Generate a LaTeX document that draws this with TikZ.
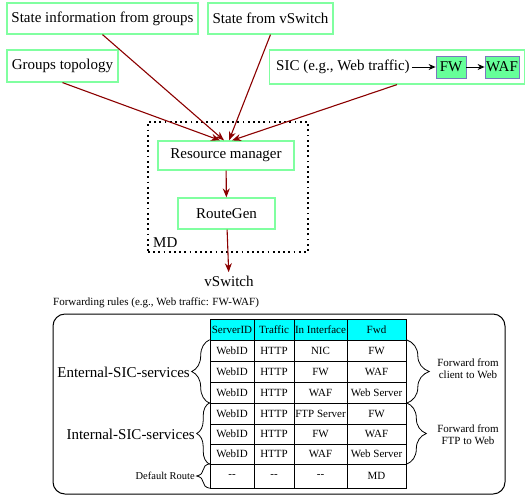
\documentclass[tikz,border=0pt]{standalone}
\usepackage{fontspec}
\setmainfont{Liberation Serif}
\usetikzlibrary{arrows.meta,positioning,decorations.pathreplacing}
\definecolor{mint}{RGB}{128,255,160}
\definecolor{fwfill}{RGB}{102,255,153}
\definecolor{fwedge}{RGB}{120,120,190}
\definecolor{darkred}{RGB}{139,0,0}
\definecolor{headcyan}{RGB}{0,255,255}
\tikzset{
	big/.style={font=\fontsize{15}{17}\selectfont},
	small/.style={font=\fontsize{11}{12}\selectfont},
	inbox/.style={draw=mint,line width=1.2pt,inner sep=0pt,big},
	feed/.style={draw=darkred,line width=1.1pt,-{Stealth[length=9pt,width=7pt]}},
	fnbox/.style={draw=fwedge,fill=fwfill,line width=0.8pt,inner sep=0pt,minimum height=22pt,big},
	cell/.style={draw,line width=0.6pt,inner sep=0pt,small},
	curly/.style={decorate,decoration={brace,amplitude=#1},line width=0.8pt},
	mdbox/.style={draw,line width=1.8pt,dash pattern=on 1.8pt off 3.4pt}
}
\begin{document}
\begin{tikzpicture}[x=1pt,y=-1pt]
\useasboundingbox (0,0) rectangle (526,498);
\node[inbox,minimum width=191pt,minimum height=31pt] (info) at (102.5,18.5) {State information from groups};
\node[inbox,minimum width=125pt,minimum height=31pt] (state) at (270.5,18.5) {State from vSwitch};
\node[inbox,minimum width=111pt,minimum height=32pt] (topo) at (62.5,66) {Groups topology};
\node[inbox,minimum width=255pt,minimum height=34pt] (sic) at (397,67) {};
\node[anchor=west,big,inner sep=0pt] (sictext) at (276,67) {SIC (e.g., Web traffic)};
\node[fnbox,minimum width=30pt] (fw) at (451,67) {FW};
\node[fnbox,minimum width=34pt] (waf) at (502,67) {WAF};
\draw[line width=0.9pt,-{Stealth[length=7pt,width=6pt]}] ([xshift=2pt]sictext.east) -- (fw);
\draw[line width=0.9pt,-{Stealth[length=7pt,width=6pt]}] (fw) -- (waf);

\node[mdbox,minimum width=160pt,minimum height=130pt] (md) at (228,187) {};
\node[anchor=base west,big,inner sep=0pt] (mdlabel) at (153,247) {MD};
\node[inbox,minimum width=136pt,minimum height=29pt] (rm) at (226,155.5) {Resource manager};
\node[inbox,minimum width=97pt,minimum height=31pt] (rg) at (226.5,213.5) {RouteGen};
\node[big] (vsout) at (229,281) {vSwitch};

\draw[feed] (topo.south) -- ([xshift=-6pt]rm.north);
\draw[feed] (info.south) -- ([xshift=-2pt]rm.north);
\draw[feed] (state.south) -- ([xshift=3pt]rm.north);
\draw[feed] (sic.south) -- ([xshift=6pt]rm.north);
\draw[feed] (rm) -- (rg);
\draw[feed] (rg) -- (vsout);

\node[anchor=west,small,inner sep=0pt] (fwdrules) at (53,303) {Forwarding rules (e.g., Web traffic: FW-WAF)};
\node[draw,rounded corners=12pt,line width=1pt,minimum width=452pt,minimum height=180pt] (rules) at (279,404) {};

\foreach \r/\ym/\h/\bg/\ta/\tb/\tc/\td in {
	0/329.5/21/headcyan/ServerID/Traffic/In Interface/Fwd,
	1/350.5/21/white/WebID/HTTP/NIC/FW,
	2/371.5/21/white/WebID/HTTP/FW/WAF,
	3/392.5/21/white/WebID/HTTP/WAF/Web Server,
	4/413.5/21/white/WebID/HTTP/FTP Server/FW,
	5/434/20/white/WebID/HTTP/FW/WAF,
	6/454/20/white/WebID/HTTP/WAF/Web Server,
	7/476/24/white/-{}-/-{}-/-{}-/MD}
{
	\node[cell,fill=\bg,minimum width=44pt,minimum height=\h pt] (c\r-1) at (232,\ym) {\ta};
	\node[cell,fill=\bg,minimum width=40pt,minimum height=\h pt] (c\r-2) at (274,\ym) {\tb};
	\node[cell,fill=\bg,minimum width=53pt,minimum height=\h pt] (c\r-3) at (320.5,\ym) {\tc};
	\node[cell,fill=\bg,minimum width=59pt,minimum height=\h pt] (c\r-4) at (376.5,\ym) {\td};
}

\draw[curly=18pt] (c3-1.south west) -- (c1-1.north west);
\draw[curly=13pt] (c6-1.south west) -- (c4-1.north west);
\draw[curly=13pt] (c7-1.south west) -- (c7-1.north west);
\draw[curly=23pt] (c1-4.north east) -- (c3-4.south east);
\draw[curly=20pt] (c4-4.north east) -- (c6-4.south east);

\node[anchor=east,big,inner sep=1pt] (ext) at (191,372) {Enternal-SIC-services};
\node[anchor=east,big,inner sep=1pt] (int) at (196,434) {Internal-SIC-services};
\node[anchor=east,font=\fontsize{10.5}{12}\selectfont,inner sep=1pt] (dflt) at (196,476) {Default Route};
\node[align=center,small] (cweb) at (468,369) {Forward from\\client to Web};
\node[align=center,small] (fweb) at (468,435) {Forward from\\FTP to Web};
\end{tikzpicture}
\end{document}
